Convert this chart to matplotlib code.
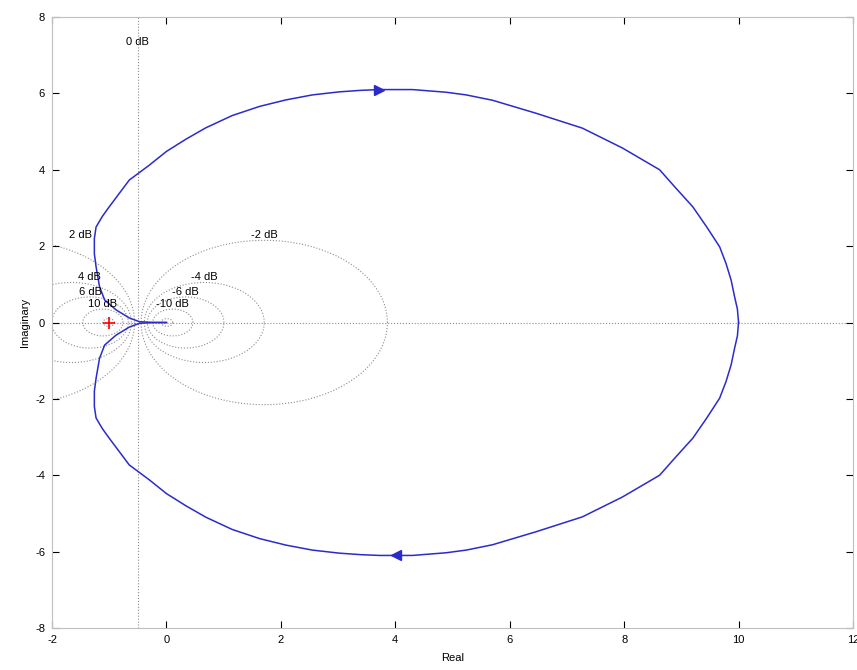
import matplotlib

matplotlib.use("Agg")
matplotlib.rc("font", **{"family": "sans-serif", "sans-serif": ["Liberation Sans", "DejaVu Sans"]})
matplotlib.rcParams["axes.unicode_minus"] = False

import numpy as np
import matplotlib.pyplot as plt

# Nyquist locus, negative-frequency branch (origin -> DC gain); the other branch is its conjugate
re_upper = [0.0, -0.20, -0.47, -0.65, -0.88, -1.08, -1.17, -1.20, -1.23, -1.26, -1.26,
            -1.23, -1.12, -1.0, -0.82, -0.65, -0.30, 0.0, 0.34, 0.69, 1.15, 1.63,
            2.09, 2.55, 3.02, 3.40, 3.72, 4.30, 4.89, 5.24, 5.70, 6.46, 7.27, 7.97,
            8.62, 8.91, 9.20, 9.44, 9.67, 9.78, 9.87, 9.93, 9.98, 10.0]
im_upper = [0.0, 0.0, 0.02, 0.12, 0.33, 0.59, 0.94, 1.20, 1.46, 1.80, 2.20,
            2.50, 2.78, 3.03, 3.39, 3.73, 4.12, 4.48, 4.80, 5.10, 5.42, 5.66,
            5.83, 5.96, 6.04, 6.08, 6.10, 6.10, 6.03, 5.96, 5.82, 5.48, 5.09, 4.57,
            4.00, 3.51, 3.03, 2.51, 1.98, 1.55, 1.11, 0.68, 0.35, 0.0]

# direction arrows on each branch
arrow_upper = (3.72, 6.10)
arrow_lower = (4.02, -6.09)

# constant-magnitude (M) circles, dB
m_db = [-20, -10, -6, -4, -2, 2, 4, 6, 10, 20]
m_labels = {-10: "-10 dB", -6: "-6 dB", -4: "-4 dB", -2: "-2 dB",
            2: "2 dB", 4: "4 dB", 6: "6 dB", 10: "10 dB"}
# labels whose circle tops fall outside the view get pulled in
label_x_override = {2: -1.5, 4: -1.35}

xticks = [-2, 0, 2, 4, 6, 8, 10, 12]
yticks = [-8, -6, -4, -2, 0, 2, 4, 6, 8]

fig = plt.figure(figsize=(8.57, 6.70), dpi=100)
ax = fig.add_axes([0.0607, 0.0627, 0.9346, 0.9119])

grid_kw = dict(color="0.55", linestyle=":", linewidth=0.8, zorder=1)
theta = np.linspace(0, 2 * np.pi, 400)
for db in m_db:
    m = 10 ** (db / 20.0)
    c = -m ** 2 / (m ** 2 - 1)
    r = abs(m / (m ** 2 - 1))
    ax.plot(c + r * np.cos(theta), r * np.sin(theta), **grid_kw)
    if db in m_labels:
        lx = label_x_override.get(db, c)
        ax.text(lx, r, m_labels[db], ha="center", va="bottom", fontsize=8, zorder=4)

# 0 dB line and real axis
ax.axvline(-0.5, **grid_kw)
ax.axhline(0, **grid_kw)
ax.text(-0.5, 7.35, "0 dB", ha="center", va="center", fontsize=8)

re_u = np.array(re_upper)
im_u = np.array(im_upper)
curve_color = "#2b2bcc"
ax.plot(re_u, im_u, color=curve_color, linewidth=1.1, zorder=3)
ax.plot(re_u, -im_u, color=curve_color, linewidth=1.1, zorder=3)
ax.plot(*arrow_upper, marker=">", color=curve_color, markersize=7, zorder=5)
ax.plot(*arrow_lower, marker="<", color=curve_color, markersize=7, zorder=5)

ax.plot(-1, 0, marker="+", color="red", markersize=8, markeredgewidth=1.2, zorder=5)

ax.set_xlim(-2, 12)
ax.set_ylim(-8, 8)
ax.set_xticks(xticks)
ax.set_yticks(yticks)
ax.tick_params(direction="in", top=True, right=True, length=5, labelsize=8, pad=5)
for s in ax.spines.values():
    s.set_color("0.75")
    s.set_linewidth(0.8)

ax.set_xlabel("Real", fontsize=8, labelpad=6)
ax.set_ylabel("Imaginary", fontsize=8, labelpad=4)

fig.savefig("out.png", dpi=100)
